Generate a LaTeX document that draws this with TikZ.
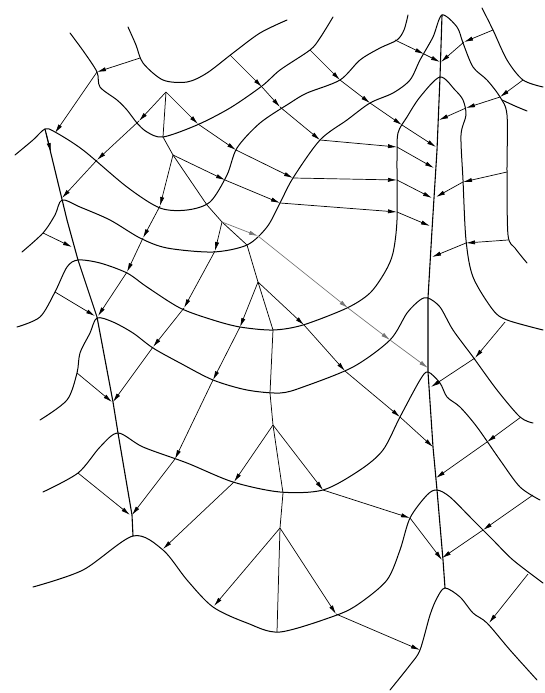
\documentclass[tikz,border=0pt]{standalone}
\usetikzlibrary{arrows.meta}

\begin{document}
\begin{tikzpicture}[
		x=1pt, y=-1pt,
		eq/.style={line width=1pt, line cap=round, line join=round},
		trunk/.style={line width=1.1pt, line cap=round, line join=round},
		stem/.style={line width=0.75pt, line join=round},
		arr/.style={-{Latex[length=9pt,width=4.2pt]}, line width=0.7pt},
		faint/.style={arr, black!55}
	]
	\useasboundingbox (0,0) rectangle (544,693);

	\coordinate (v0) at (166,92);  \coordinate (v1) at (173,155); \coordinate (v2) at (222,222);
	\coordinate (v3) at (258,282); \coordinate (v4) at (273,425); \coordinate (v5) at (280,528);

	% potential lines
	\draw[eq] plot[smooth] coordinates {(70,33) (84,52) (97,72) (100,87) (117,100) (127,110) (137,123) (147,132) (163,137) (197,125) (230,108) (262,86) (280,70) (310,50) (320,38) (333,17)};
	\draw[eq] plot[smooth] coordinates {(128,27) (136,45) (143,63) (163,80) (187,82) (207,73) (233,53) (260,33) (287,20)};
	\draw[eq] plot[smooth] coordinates {(15,155) (33,140) (45,129) (55,132) (83,150) (127,187) (160,208) (187,210) (210,202) (227,175) (237,148) (260,123) (290,103) (307,93) (340,80) (360,60) (380,48) (397,40) (404,30) (408,15)};
	\draw[eq] plot[smooth] coordinates {(22,252) (43,233) (55,215) (62,200) (80,207) (110,220) (140,238) (167,248) (213,252) (247,245) (267,227) (280,203) (293,178) (320,140) (347,120) (370,103) (393,93) (410,80) (420,60) (433,37) (442,15) (457,27) (463,43) (473,67) (487,80) (500,97) (507,115) (507,172) (508,235) (515,248) (527,263)};
	\draw[eq] plot[smooth] coordinates {(502,100) (515,106) (527,111)};
	\draw[eq] plot[smooth] coordinates {(17,327) (40,317) (55,292) (67,267) (78,260) (100,263) (127,273) (147,287) (180,308) (213,320) (240,327) (273,330) (303,325) (347,308) (370,293) (385,272) (393,253) (397,220) (397,160) (398,133) (407,117) (420,97) (440,77) (455,90) (463,100) (466,115) (461,135) (463,180) (466,240) (473,277) (493,310) (507,320) (543,330)};
	\draw[eq] plot[smooth] coordinates {(40,420) (67,400) (77,373) (80,353) (90,333) (97,318) (113,322) (133,333) (153,348) (180,363) (213,380) (247,390) (280,393) (303,387) (353,367) (390,340) (407,313) (420,300) (428,298) (440,307) (453,330) (473,357) (497,390) (520,417) (533,423)};
	\draw[eq] plot[smooth] coordinates {(43,492) (78,473) (100,447) (118,433) (143,447) (187,463) (233,482) (280,492) (323,490) (360,470) (383,450) (400,417) (420,380) (428,372) (440,383) (447,397) (460,407) (477,427) (500,460) (520,487) (540,500)};
	\draw[eq] plot[smooth] coordinates {(33,587) (83,570) (133,536) (163,550) (187,580) (213,607) (247,623) (280,632) (337,615) (360,603) (387,580) (400,550) (410,518) (427,495) (437,490) (450,497) (473,520) (493,540) (513,560) (543,583)};
	\draw[eq] plot[smooth] coordinates {(390,690) (410,665) (420,650) (430,615) (437,598) (445,588) (460,597) (473,613) (487,623) (510,650) (537,680)};
	\draw[eq] plot[smooth] coordinates {(482,8) (493,30) (507,60) (523,80) (543,87)};

	% trunks and divide
	\draw[trunk] (45,129) -- (67,220) -- (78,260) -- (97,317) -- (113,402) -- (118,433) -- (132,515) -- (133,536);
	\draw[trunk] (442,15) -- (440,77) -- (437,150) -- (432,230) -- (428,298) -- (428,372) -- (433,447) -- (437,490) -- (443,560) -- (445,588);
	\draw[stem] (v0) -- (163,137) -- (v1) -- (207,205) -- (v2) -- (247,245) -- (v3) -- (273,330) -- (270,393) -- (v4) -- (283,493) -- (v5) -- (277,632);

	% flow to the left
	\draw[arr] (140,58) -- (97,72); \draw[arr] (97,72) -- (55,133); \draw[arr] (46,133) -- (51,152);
	\draw[arr] (v0) -- (139,121); \draw[arr] (139,121) -- (97,160); \draw[arr] (97,160) -- (62,198);
	\draw[arr] (43,233) -- (72,247);
	\draw[arr] (v1) -- (160,206); \draw[arr] (160,206) -- (143,238); \draw[arr] (143,238) -- (127,272); \draw[arr] (127,272) -- (98,316);
	\draw[arr] (55,292) -- (95,316);
	\draw[arr] (v2) -- (215,251); \draw[arr] (215,251) -- (184,308); \draw[arr] (184,308) -- (153,347); \draw[arr] (153,347) -- (113,402);
	\draw[arr] (77,373) -- (112,402);
	\draw[arr] (v3) -- (240,327); \draw[arr] (240,327) -- (213,380); \draw[arr] (213,380) -- (175,459); \draw[arr] (175,459) -- (132,515);
	\draw[arr] (78,473) -- (130,515);
	\draw[arr] (v4) -- (234,482); \draw[arr] (234,482) -- (163,549);
	\draw[arr] (v5) -- (214,606);

	% flow to the right
	\draw[arr] (395,40) -- (424,54); \draw[arr] (424,54) -- (440,62);
	\draw[arr] (310,50) -- (340,80); \draw[arr] (340,80) -- (370,103); \draw[arr] (370,103) -- (402,125); \draw[arr] (402,125) -- (436,147);
	\draw[arr] (230,55) -- (262,87); \draw[arr] (262,87) -- (280,107); \draw[arr] (280,107) -- (320,140); \draw[arr] (320,140) -- (397,147); \draw[arr] (397,147) -- (434,168);
	\draw[arr] (v0) -- (198,124); \draw[arr] (198,124) -- (236,150); \draw[arr] (236,150) -- (293,178); \draw[arr] (293,178) -- (397,180); \draw[arr] (397,180) -- (432,198);
	\draw[arr] (v1) -- (225,180); \draw[arr] (225,180) -- (280,203); \draw[arr] (280,203) -- (397,212); \draw[arr] (397,212) -- (430,226);
	\draw[faint] (v2) -- (258,236); \draw[faint] (258,236) -- (348,308); \draw[faint] (348,308) -- (390,340); \draw[faint] (390,340) -- (428,368);
	\draw[arr] (v3) -- (304,325); \draw[arr] (304,325) -- (345,371); \draw[arr] (345,371) -- (400,417); \draw[arr] (400,417) -- (433,447);
	\draw[arr] (v4) -- (323,490); \draw[arr] (323,490) -- (410,518); \draw[arr] (410,518) -- (442,560);
	\draw[arr] (v5) -- (336,614); \draw[arr] (336,614) -- (420,650);

	% flow from the right side
	\draw[arr] (493,30) -- (464,42); \draw[arr] (464,42) -- (441,62);
	\draw[arr] (523,80) -- (500,97); \draw[arr] (500,97) -- (466,108); \draw[arr] (466,108) -- (439,120);
	\draw[arr] (507,172) -- (463,182); \draw[arr] (463,182) -- (436,197);
	\draw[arr] (508,240) -- (466,243); \draw[arr] (466,243) -- (432,257);
	\draw[arr] (505,322) -- (475,358); \draw[arr] (475,358) -- (431,387);
	\draw[arr] (521,417) -- (487,442); \draw[arr] (487,442) -- (436,478);
	\draw[arr] (533,495) -- (483,530); \draw[arr] (483,530) -- (442,558);
	\draw[arr] (528,574) -- (489,623);
\end{tikzpicture}
\end{document}
